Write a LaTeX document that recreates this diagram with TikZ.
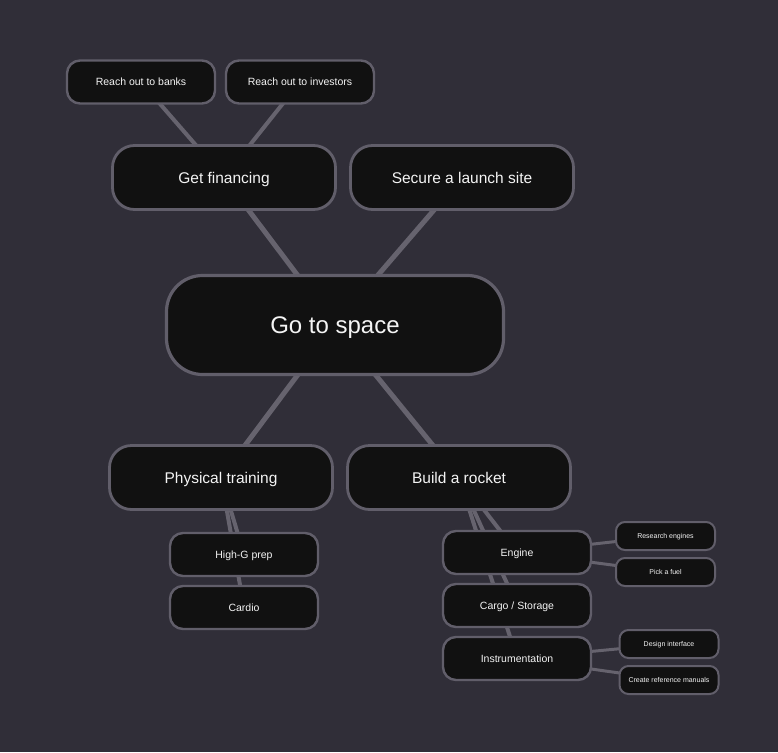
\documentclass[tikz,border=0pt]{standalone}
\usepackage{fontspec}
\setmainfont{Liberation Sans}
\usetikzlibrary{backgrounds}
\definecolor{bgc}{HTML}{302E38}
\definecolor{nodefill}{HTML}{111111}
\definecolor{bordc}{HTML}{615E6A}
\definecolor{edgec}{HTML}{66636E}
\definecolor{txtc}{HTML}{F4F4F4}
\tikzset{
  base/.style={rectangle, fill=nodefill, draw=bordc, text=txtc, inner sep=0pt, outer sep=0pt, align=center, text depth=0pt},
  rootbox/.style={base, text height=17.2pt, line width=3.2pt, minimum width=337pt, minimum height=99pt, rounded corners=36pt, font=\fontsize{24}{28}\selectfont},
  mainbox/.style={base, text height=11.1pt, line width=2.8pt, minimum width=223pt, minimum height=64pt, rounded corners=22pt, font=\fontsize{15.5}{18}\selectfont},
  subbox/.style={base, text height=7.5pt, line width=2.4pt, minimum width=148pt, minimum height=43pt, rounded corners=13pt, font=\fontsize{10.5}{12}\selectfont},
  leafbox/.style={base, text height=5pt, line width=2pt, minimum width=99pt, minimum height=28pt, rounded corners=9pt, font=\fontsize{7}{8}\selectfont},
  edgeA/.style={draw=edgec, line width=5pt},
  edgeB/.style={draw=edgec, line width=4pt},
  edgeC/.style={draw=edgec, line width=3pt},
}
\begin{document}
\begin{tikzpicture}[x=1pt, y=-1pt]
\begin{scope}[on background layer]
\fill[bgc] (0,0) rectangle (778,752);
\end{scope}
\useasboundingbox (0,0) rectangle (778,752);

\node[rootbox] (root) at (335,325) {Go to space};

\node[mainbox] (fin) at (224,177.5) {Get financing};
\node[mainbox] (site) at (462,177.5) {Secure a launch site};
\node[mainbox] (train) at (221,477.5) {Physical training};
\node[mainbox] (rocket) at (459,477.5) {Build a rocket};

\node[subbox] (banks) at (141,82) {Reach out to banks};
\node[subbox] (inv) at (300,82) {Reach out to investors};
\node[subbox] (hig) at (244,554.5) {High-G prep};
\node[subbox] (cardio) at (244,607.5) {Cardio};
\node[subbox] (engine) at (517,552.5) {Engine};
\node[subbox] (cargo) at (517,605.5) {Cargo / Storage};
\node[subbox] (instr) at (517,658.5) {Instrumentation};

\node[leafbox] (research) at (665.5,536) {Research engines};
\node[leafbox] (fuel) at (665.5,572) {Pick a fuel};
\node[leafbox] (design) at (669,644) {Design interface};
\node[leafbox] (manuals) at (669,680) {Create reference manuals};

\begin{scope}[on background layer]
\path[edgeA] (root.center) -- (fin.center);
\path[edgeA] (root.center) -- (site.center);
\path[edgeA] (root.center) -- (train.center);
\path[edgeA] (root.center) -- (rocket.center);
\path[edgeB] (fin.center) -- (banks.center);
\path[edgeB] (fin.center) -- (inv.center);
\path[edgeB] (train.center) -- (hig.center);
\path[edgeB] (train.center) -- (cardio.center);
\path[edgeB] (rocket.center) -- (engine.center);
\path[edgeB] (rocket.center) -- (cargo.center);
\path[edgeB] (rocket.center) -- (instr.center);
\path[edgeC] (engine.center) -- (research.center);
\path[edgeC] (engine.center) -- (fuel.center);
\path[edgeC] (instr.center) -- (design.center);
\path[edgeC] (instr.center) -- (manuals.center);
\end{scope}
\end{tikzpicture}
\end{document}
